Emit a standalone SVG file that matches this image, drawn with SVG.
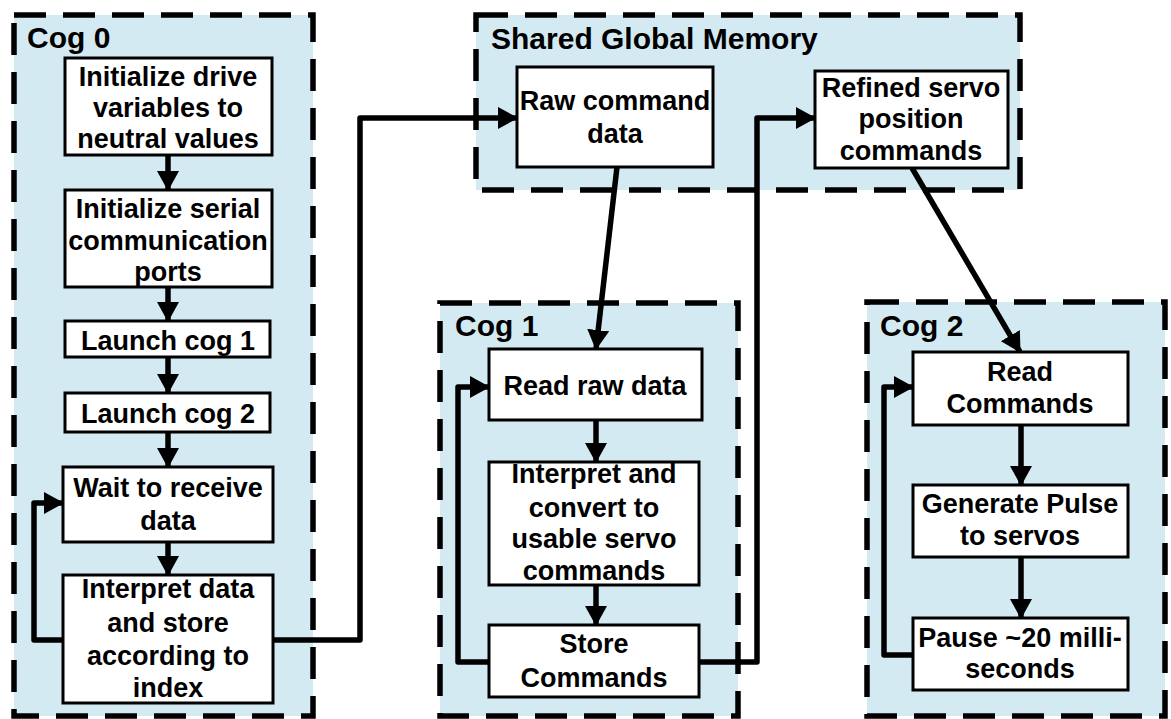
<svg xmlns="http://www.w3.org/2000/svg" width="1171" height="719" viewBox="0 0 1171 719">
<defs>
<style>
.cont{fill:#d4eaf2;stroke:#000;stroke-width:5.5;stroke-dasharray:32 17;}
.box{fill:#fff;stroke:#000;stroke-width:3;}
.t{font-family:"Liberation Sans",Arial,sans-serif;font-weight:bold;font-size:27px;fill:#000;text-anchor:middle;}
.title{font-family:"Liberation Sans",Arial,sans-serif;font-weight:bold;font-size:30px;fill:#000;}
.c{fill:none;stroke:#000;stroke-width:5.5;stroke-linejoin:round;marker-end:url(#ah);}
</style>
<marker id="ah" viewBox="0 0 20 22" refX="19" refY="11" markerWidth="20" markerHeight="22" markerUnits="userSpaceOnUse" orient="auto">
<path d="M0,0 L20,11 L0,22 Z" fill="#000"/>
</marker>
</defs>
<rect width="1171" height="719" fill="#fff"/>

<g id="cog0">
<rect class="cont" x="14" y="15" width="299" height="701"/>
<text class="title" x="27" y="48">Cog 0</text>
</g>
<g id="shared">
<rect class="cont" x="476" y="15" width="544" height="175"/>
<text class="title" x="491" y="49">Shared Global Memory</text>
</g>
<g id="cog1">
<rect class="cont" x="440" y="303" width="298" height="413"/>
<text class="title" x="455" y="336">Cog 1</text>
</g>
<g id="cog2">
<rect class="cont" x="867" y="302" width="298" height="414"/>
<text class="title" x="880" y="336">Cog 2</text>
</g>

<g id="connectors">
<path class="c" d="M168,155 V190"/>
<path class="c" d="M168,287 V321"/>
<path class="c" d="M168,357 V393"/>
<path class="c" d="M168,432 V467"/>
<path class="c" d="M168,542 V575"/>
<path class="c" d="M63,640 H34 V503 H63"/>
<path class="c" d="M273,640 H360 V118 H517"/>
<path class="c" d="M617,167 L596,349"/>
<path class="c" d="M596,420 V462"/>
<path class="c" d="M596,585 V625"/>
<path class="c" d="M489,662 H458 V387 H489"/>
<path class="c" d="M699,662 H757 V118 H815"/>
<path class="c" d="M912,168 L1020,352"/>
<path class="c" d="M1021,425 V485"/>
<path class="c" d="M1021,557 V618"/>
<path class="c" d="M913,655 H884 V387 H913"/>
</g>

<g id="n_init_drive">
<rect class="box" x="65" y="58" width="207" height="97"/>
<text class="t" x="168" y="86">Initialize drive</text>
<text class="t" x="168" y="117">variables to</text>
<text class="t" x="168" y="148">neutral values</text>
</g>
<g id="n_init_serial">
<rect class="box" x="65" y="190" width="207" height="97"/>
<text class="t" x="168" y="218">Initialize serial</text>
<text class="t" x="168" y="250">communication</text>
<text class="t" x="168" y="281">ports</text>
</g>
<g id="n_launch1">
<rect class="box" x="65" y="321" width="205" height="36"/>
<text class="t" x="168" y="350">Launch cog 1</text>
</g>
<g id="n_launch2">
<rect class="box" x="65" y="393" width="205" height="39"/>
<text class="t" x="168" y="423">Launch cog 2</text>
</g>
<g id="n_wait">
<rect class="box" x="63" y="467" width="210" height="75"/>
<text class="t" x="168" y="497">Wait to receive</text>
<text class="t" x="168" y="530">data</text>
</g>
<g id="n_interpret0">
<rect class="box" x="63" y="575" width="210" height="128"/>
<text class="t" x="168" y="598">Interpret data</text>
<text class="t" x="168" y="632">and store</text>
<text class="t" x="168" y="665">according to</text>
<text class="t" x="168" y="697">index</text>
</g>

<g id="n_raw">
<rect class="box" x="517" y="67" width="196" height="100"/>
<text class="t" x="615" y="110">Raw command</text>
<text class="t" x="615" y="143">data</text>
</g>
<g id="n_refined">
<rect class="box" x="815" y="71" width="193" height="97"/>
<text class="t" x="911" y="97">Refined servo</text>
<text class="t" x="911" y="128">position</text>
<text class="t" x="911" y="160">commands</text>
</g>

<g id="n_readraw">
<rect class="box" x="489" y="349" width="213" height="71"/>
<text class="t" x="595" y="395">Read raw data</text>
</g>
<g id="n_convert">
<rect class="box" x="489" y="462" width="210" height="123"/>
<text class="t" x="594" y="483">Interpret and</text>
<text class="t" x="594" y="517">convert to</text>
<text class="t" x="594" y="548">usable servo</text>
<text class="t" x="594" y="580">commands</text>
</g>
<g id="n_store">
<rect class="box" x="489" y="625" width="210" height="72"/>
<text class="t" x="594" y="653">Store</text>
<text class="t" x="594" y="687">Commands</text>
</g>

<g id="n_readcmd">
<rect class="box" x="913" y="352" width="215" height="73"/>
<text class="t" x="1020" y="381">Read</text>
<text class="t" x="1020" y="413">Commands</text>
</g>
<g id="n_pulse">
<rect class="box" x="913" y="485" width="215" height="72"/>
<text class="t" x="1020" y="513">Generate Pulse</text>
<text class="t" x="1020" y="545">to servos</text>
</g>
<g id="n_pause">
<rect class="box" x="913" y="618" width="215" height="72"/>
<text class="t" x="1020" y="647">Pause ~20 milli-</text>
<text class="t" x="1020" y="678">seconds</text>
</g>
</svg>
